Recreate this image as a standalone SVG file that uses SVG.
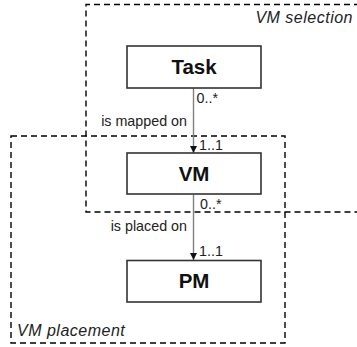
<svg xmlns="http://www.w3.org/2000/svg" width="357" height="347" viewBox="0 0 357 347">
  <style>
    .region { fill: none; stroke: #000; stroke-width: 1.4; stroke-dasharray: 6 4; }
    .node rect { fill: #fff; stroke: #333; stroke-width: 1.6; }
    .node text { font-family: "Liberation Sans", Arial, sans-serif; font-weight: bold; font-size: 20.5px; fill: #111; text-anchor: middle; }
    .conn { stroke: #808080; stroke-width: 1.4; fill: none; }
    .lbl { font-family: "Liberation Sans", Arial, sans-serif; font-size: 14.3px; fill: #222; }
    .rlbl { font-family: "Liberation Sans", Arial, sans-serif; font-size: 16px; font-style: italic; fill: #222; letter-spacing: 0.5px; }
  </style>
  <defs>
    <marker id="arrow" markerWidth="7" markerHeight="8" refX="7" refY="3.5" orient="auto" markerUnits="userSpaceOnUse">
      <path d="M0,0 L7,3.5 L0,7 Z" fill="#111"/>
    </marker>
  </defs>
  <rect width="357" height="347" fill="#fff"/>
  <g id="vm-selection">
    <path class="region" d="M360,4.5 H86 V212 H360"/>
    <text class="rlbl" x="353" y="23" text-anchor="end">VM selection</text>
  </g>
  <g id="vm-placement">
    <rect class="region" x="11" y="136" width="274" height="207"/>
    <text class="rlbl" x="17" y="336">VM placement</text>
  </g>
  <g id="connectors">
    <line class="conn" x1="193.5" y1="88" x2="193.5" y2="153" marker-end="url(#arrow)"/>
    <text class="lbl" x="196.5" y="103">0..*</text>
    <text class="lbl" x="187" y="126" text-anchor="end">is mapped on</text>
    <text class="lbl" x="199" y="150">1..1</text>
    <line class="conn" x1="193.5" y1="194.5" x2="193.5" y2="260" marker-end="url(#arrow)"/>
    <text class="lbl" x="200" y="209">0..*</text>
    <text class="lbl" x="187" y="231" text-anchor="end">is placed on</text>
    <text class="lbl" x="199" y="256">1..1</text>
  </g>
  <g id="task" class="node">
    <rect x="127" y="46" width="134" height="42"/>
    <text x="194" y="74">Task</text>
  </g>
  <g id="vm" class="node">
    <rect x="127" y="153" width="134" height="41"/>
    <text x="194" y="181">VM</text>
  </g>
  <g id="pm" class="node">
    <rect x="127" y="260.5" width="134" height="41.5"/>
    <text x="194" y="288">PM</text>
  </g>
</svg>
